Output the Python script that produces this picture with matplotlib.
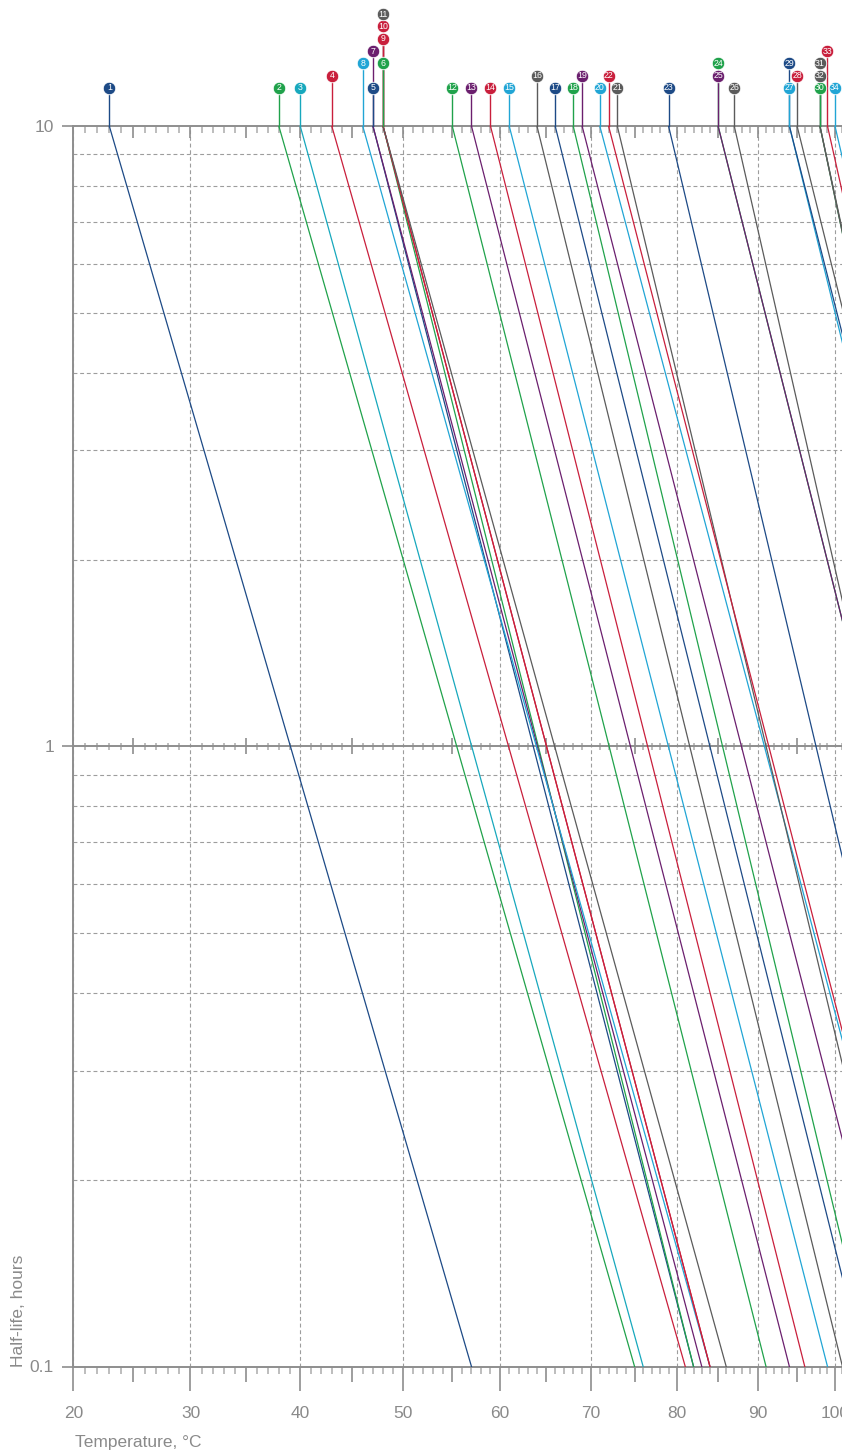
import numpy as np
import matplotlib
matplotlib.use("Agg")
import matplotlib.pyplot as plt
from matplotlib.ticker import FixedLocator, FixedFormatter, LogLocator, NullFormatter

plt.rcParams['font.family'] = ['Liberation Sans', 'DejaVu Sans']

# initiator number and the temperatures (deg C) giving 10 h and 0.1 h half-life
numbers = list(range(1, 35))
temp_10h = [23, 38, 40, 43, 47, 48, 47, 46, 48, 48, 48, 55, 57, 59, 61, 64, 66,
            68, 69, 71, 73, 72, 79, 85, 85, 87, 94, 95, 94, 98, 98, 98, 99, 100]
temp_01h = [57, 75, 76, 81, 82, 82, 83, 84, 84, 84, 86, 91, 94, 96, 99, 101, 104,
            105, 109, 113, 111, 113, 118, 128, 128, 126, 138, 140, 140, 136, 137, 136, 140, 143]
half_life_top = 10
half_life_bottom = 0.1

x_ticks = [20, 30, 40, 50, 60, 70, 80, 90, 100]
y_ticks = [0.1, 1, 10]
y_tick_labels = ['0.1', '1', '10']

# colours
BLUE = '#1d4a86'
GREEN = '#20a24b'
TEAL = '#17a8bd'
CYAN = '#21a5d5'
RED = '#c91f3c'
PURPLE = '#6b1f6e'
GREY = '#5b5b5b'
AXIS = '#8e8e8e'
MINOR = '#b8b8b8'
GRID = '#9d9d9d'
LABEL = '#8a8a8a'

marker_colours = [BLUE, GREEN, TEAL, RED, BLUE, GREEN, PURPLE, CYAN, RED, RED, GREY,
                  GREEN, PURPLE, RED, CYAN, GREY, BLUE, GREEN, PURPLE, CYAN, GREY, RED,
                  BLUE, GREEN, PURPLE, GREY, CYAN, RED, BLUE, GREEN, GREY, GREY, RED, CYAN]
line_colours = list(marker_colours)
line_colours[27] = GREY  # no. 28 is drawn grey in the original
# how many rows up the numbered bubble sits above the 10 h line
stack_level = [0, 0, 0, 1, 0, 2, 3, 2, 4, 5, 6, 0, 0, 0, 0, 1, 0, 0, 1, 0, 0, 1, 0,
               2, 1, 0, 0, 1, 2, 0, 2, 1, 3, 0]


def to_inv(t):
    t = np.asarray(t, dtype=float)
    with np.errstate(divide='ignore', invalid='ignore'):
        return -1.0 / (t + 273.15)


def from_inv(u):
    u = np.asarray(u, dtype=float)
    with np.errstate(divide='ignore', invalid='ignore'):
        return -1.0 / u - 273.15


W, H = 842, 1450
left_px, top_px, bottom_px = 73.3, 126, 1366.5
x_max = 110
px_per_inv_k = 1.0415e6
width_px = px_per_inv_k * (1 / (20 + 273.15) - 1 / (x_max + 273.15))
px2pt = 72 / 100

fig = plt.figure(figsize=(W / 100, H / 100), dpi=100)
ax = fig.add_axes([left_px / W, (H - bottom_px) / H, width_px / W, (bottom_px - top_px) / H])
ax.set_xscale('function', functions=(to_inv, from_inv))
ax.set_yscale('log')
ax.set_xlim(20, x_max)
ax.set_ylim(half_life_bottom, half_life_top)

# half-life lines
for i, n in enumerate(numbers):
    ax.plot([temp_10h[i], temp_01h[i]], [half_life_top, half_life_bottom],
            color=line_colours[i], lw=0.9, zorder=3)

# axes, ticks, grid
ax.xaxis.set_major_locator(FixedLocator(x_ticks))
ax.xaxis.set_major_formatter(FixedFormatter([str(t) for t in x_ticks]))
ax.xaxis.set_minor_locator(FixedLocator([t for t in range(21, x_max) if t % 5]))
ax.xaxis.set_minor_formatter(NullFormatter())
ax.yaxis.set_major_locator(FixedLocator(y_ticks))
ax.yaxis.set_major_formatter(FixedFormatter(y_tick_labels))
ax.yaxis.set_minor_locator(LogLocator(base=10, subs=np.arange(2, 10)))
ax.yaxis.set_minor_formatter(NullFormatter())

dash = (0, (3.5, 2.5))
ax.grid(True, which='major', axis='x', color=GRID, lw=0.8, ls=dash, zorder=1)
ax.grid(True, which='minor', axis='y', color=GRID, lw=0.8, ls=dash, zorder=1)

ax.tick_params(axis='x', which='major', direction='out', length=24 * px2pt, width=1.2,
               color=AXIS, pad=11, labelsize=12.5, labelcolor=LABEL)
ax.tick_params(axis='x', which='minor', direction='out', length=7 * px2pt, width=1.3,
               color=MINOR)
ax.tick_params(axis='y', which='major', direction='out', length=11 * px2pt, width=1.2,
               color=AXIS, pad=6, labelsize=12.5, labelcolor=LABEL)
ax.tick_params(axis='y', which='minor', length=0)

for s in ['left', 'top', 'bottom']:
    ax.spines[s].set_color(AXIS)
    ax.spines[s].set_linewidth(1.4)
ax.spines['right'].set_visible(False)
ax.axhline(1, color=AXIS, lw=1.4, zorder=2.5)

# extra tick marks on the 10 h and 1 h lines and the 5-degree marks at the bottom
xt = ax.get_xaxis_transform()
ax_h = bottom_px - top_px


def f(p):
    return p / ax_h


y_one = ax.transAxes.inverted().transform(ax.transData.transform((50, 1)))[1]
ones = [t for t in range(21, x_max) if t % 5]
fives = list(range(25, x_max, 10))
tens = list(range(30, x_max + 1, 10))
ax.vlines(ones, 1 - f(7), 1, transform=xt, colors=MINOR, lw=1.3, zorder=2)
ax.vlines(fives, 1 - f(12), 1, transform=xt, colors=AXIS, lw=1.2, zorder=2)
ax.vlines(tens, 1 - f(12), 1, transform=xt, colors=AXIS, lw=1.2, zorder=2)
ax.vlines(ones, y_one - f(3.5), y_one + f(3.5), transform=xt, colors=MINOR, lw=1.3, zorder=2)
ax.vlines(fives, y_one - f(8), y_one + f(8), transform=xt, colors=AXIS, lw=1.2, zorder=2)
ax.vlines(fives, -f(15), 0, transform=xt, colors=AXIS, lw=1.2, clip_on=False, zorder=2)

# numbered bubbles on stems above the 10 h line
for i, n in enumerate(numbers):
    yy = 1 + f(38 + 12.33 * stack_level[i])
    ax.plot([temp_10h[i]] * 2, [1, yy], transform=xt, color=line_colours[i], lw=1.0,
            clip_on=False, zorder=4 - 0.01 * stack_level[i])
    ax.plot(temp_10h[i], yy, 'o', ms=12.5 * px2pt, mfc=marker_colours[i], mec='white',
            mew=0.6, transform=xt, clip_on=False, zorder=5)
    ax.text(temp_10h[i], yy, str(n), transform=xt, ha='center', va='center',
            color='white', fontsize=6.3, clip_on=False, zorder=6)

fig.text(75 / W, (H - 1446.5) / H, 'Temperature, °C', ha='left', va='baseline',
         fontsize=12.5, color=LABEL)
fig.text(18.3 / W, (H - 1367) / H, 'Half-life, hours', rotation=90, ha='center',
         va='bottom', fontsize=12.5, color=LABEL)

fig.savefig('out.png', dpi=100, facecolor='white')
